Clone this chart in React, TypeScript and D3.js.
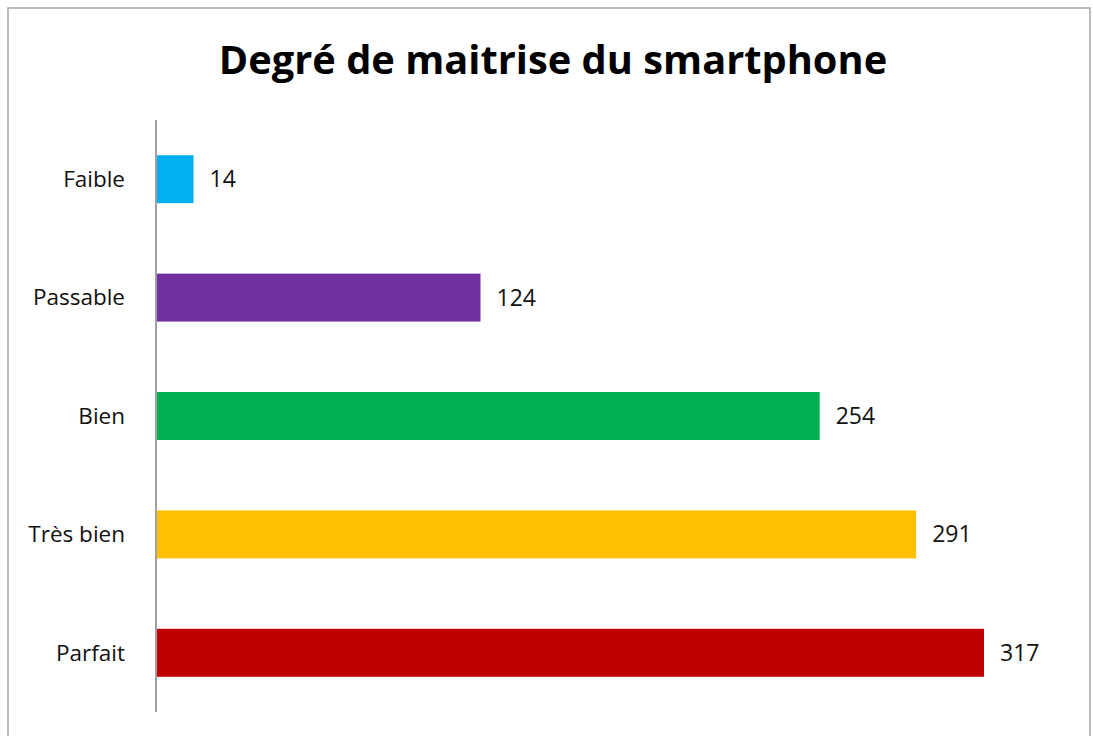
import React from "react";
import * as d3 from "d3";

const categories = ["Faible", "Passable", "Bien", "Très bien", "Parfait"];
const values = [14, 124, 254, 291, 317];
const colors = ["#00B0F0", "#7030A0", "#00B050", "#FFC000", "#C00000"];
const title = "Degré de maitrise du smartphone";

const width = 1093;
const height = 736;
const font = "'Open Sans', 'Noto Sans', sans-serif";

const App = () => {
    const y = d3
        .scaleBand()
        .domain(categories)
        .range([120, 712])
        .paddingInner(0.595)
        .paddingOuter(0.2975);
    const x = d3.scaleLinear().domain([0, 317]).range([157, 984]);

    return (
        <svg
            width={width}
            height={height}
            style={{ position: "absolute", left: 0, top: 0, background: "white" }}
        >
            <rect x={8} y={8} width={1082} height={760} fill="white" stroke="#a6a6a6" strokeWidth={1.5} />
            <text
                x={553}
                y={74}
                textAnchor="middle"
                fontFamily={font}
                fontWeight="bold"
                fontSize="39.8"
                fill="black"
            >
                {title}
            </text>
            {categories.map((c, i) => (
                <g key={c}>
                    <rect
                        x={x(0)}
                        y={y(c)}
                        width={x(values[i]) - x(0)}
                        height={y.bandwidth()}
                        fill={colors[i]}
                    />
                    <text
                        x={125}
                        y={y(c) + y.bandwidth() / 2}
                        dy="0.35em"
                        textAnchor="end"
                        fontFamily={font}
                        fontSize="22.5"
                        fill="#111"
                    >
                        {c}
                    </text>
                    <text
                        x={x(values[i]) + 16}
                        y={y(c) + y.bandwidth() / 2}
                        dy="0.35em"
                        fontFamily={font}
                        fontSize="23"
                        fill="#111"
                    >
                        {values[i]}
                    </text>
                </g>
            ))}
            <line x1={156} x2={156} y1={120} y2={712} stroke="#a0a0a0" strokeWidth={2} />
        </svg>
    );
};

export default App;
